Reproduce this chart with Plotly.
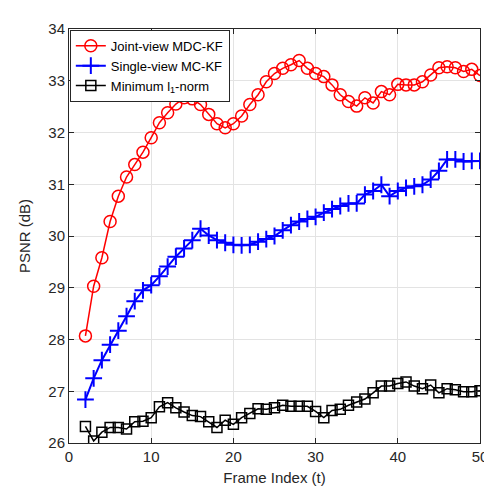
import plotly.graph_objects as go

frames = list(range(2, 51))

joint_mdc_kf = [28.07, 29.03, 29.58, 30.28, 30.77, 31.14, 31.38, 31.62, 31.90,
                32.19, 32.38, 32.55, 32.67, 32.65, 32.54, 32.35, 32.17, 32.09,
                32.17, 32.32, 32.54, 32.73, 32.98, 33.14, 33.24, 33.31, 33.39,
                33.24, 33.14, 33.08, 32.92, 32.73, 32.60, 32.51, 32.67, 32.57,
                32.79, 32.73, 32.93, 32.92, 32.92, 32.98, 33.11, 33.25, 33.27,
                33.25, 33.18, 33.22, 33.10]

single_mc_kf = [26.84, 27.25, 27.60, 27.90, 28.17, 28.45, 28.74, 28.95, 29.05,
                29.22, 29.41, 29.60, 29.76, 29.92, 30.14, 30.01, 29.92, 29.87,
                29.83, 29.82, 29.83, 29.89, 29.94, 30.00, 30.11, 30.21, 30.28,
                30.33, 30.37, 30.45, 30.52, 30.58, 30.63, 30.63, 30.80, 30.87,
                30.99, 30.77, 30.87, 30.93, 30.96, 30.99, 31.09, 31.26, 31.48,
                31.48, 31.44, 31.45, 31.45]

minimum_l1 = [26.32, 26.04, 26.21, 26.30, 26.30, 26.27, 26.41, 26.42, 26.49,
              26.70, 26.78, 26.68, 26.60, 26.53, 26.51, 26.41, 26.30, 26.44,
              26.36, 26.49, 26.57, 26.66, 26.65, 26.68, 26.73, 26.71, 26.71,
              26.71, 26.61, 26.49, 26.63, 26.65, 26.73, 26.79, 26.85, 26.97,
              27.10, 27.10, 27.15, 27.18, 27.10, 27.05, 27.12, 26.97, 27.05,
              27.03, 26.99, 26.99, 27.01]

x_ticks = [0, 10, 20, 30, 40, 50]
y_ticks = [26, 27, 28, 29, 30, 31, 32, 33, 34]

fig = go.Figure()
fig.add_trace(go.Scatter(
    x=frames, y=joint_mdc_kf, mode="lines+markers", name="Joint-view MDC-KF",
    line=dict(color="#ff0000", width=1.5),
    marker=dict(symbol="circle-open", size=12, color="#ff0000", line=dict(width=1.5))))
fig.add_trace(go.Scatter(
    x=frames, y=single_mc_kf, mode="lines+markers", name="Single-view MC-KF",
    line=dict(color="#0000ff", width=2),
    marker=dict(symbol="cross-thin-open", size=12, color="#0000ff", line=dict(width=2, color="#0000ff"))))
fig.add_trace(go.Scatter(
    x=frames, y=minimum_l1, mode="lines+markers", name="Minimum l<sub>1</sub>-norm",
    line=dict(color="#000000", width=1.5),
    marker=dict(symbol="square-open", size=10, color="#000000", line=dict(width=1.5))))

axis_common = dict(
    showgrid=True, gridcolor="#e3e3e3", gridwidth=1,
    showline=True, linecolor="#262626", linewidth=1, mirror="ticks",
    ticks="inside", ticklen=5, tickcolor="#262626",
    tickfont=dict(family="Liberation Sans, Arial, sans-serif", size=15, color="#262626"),
    zeroline=False,
)

fig.update_layout(
    width=492, height=489,
    margin=dict(l=61, r=12, t=13, b=54),
    paper_bgcolor="white", plot_bgcolor="white",
    font=dict(family="Liberation Sans, Arial, sans-serif", color="#262626"),
    xaxis=dict(range=[0, 50], tickvals=x_ticks,
               title=dict(text="Frame Index (t)", font=dict(size=15), standoff=8),
               **axis_common),
    yaxis=dict(range=[26, 34], tickvals=y_ticks,
               title=dict(text="PSNR (dB)", font=dict(size=15), standoff=14),
               **axis_common),
    legend=dict(x=0.002, y=0.998, xanchor="left", yanchor="top",
                bgcolor="white", bordercolor="#262626", borderwidth=1,
                font=dict(size=13, color="#000000"),
                tracegroupgap=0, itemwidth=30),
    showlegend=True,
)

fig.write_html("out.html")
